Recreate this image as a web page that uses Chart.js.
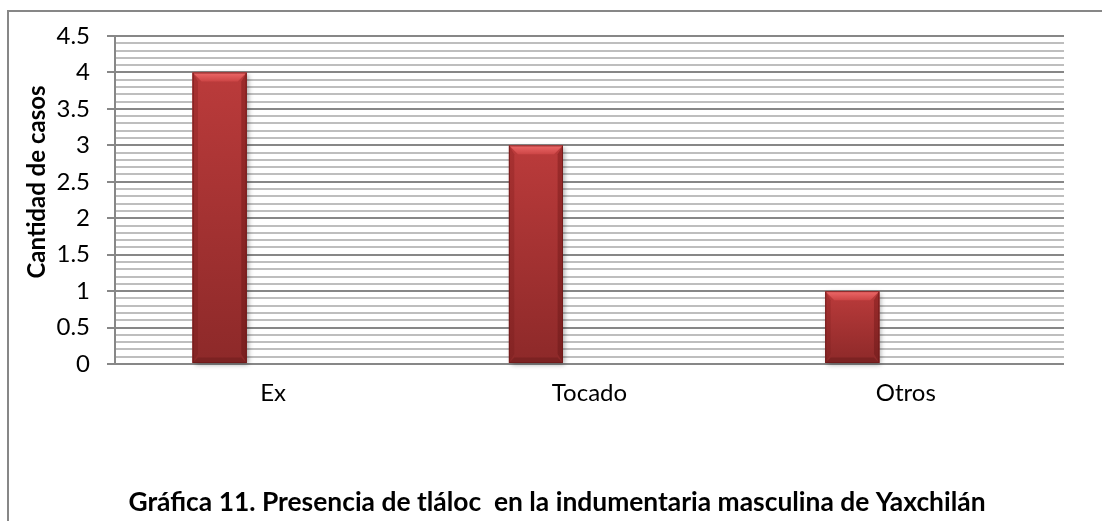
<!DOCTYPE html>
<html>
<head>
<meta charset="utf-8">
<script src="https://cdn.jsdelivr.net/npm/chart.js@4.4.1/dist/chart.umd.min.js"></script>
<style>
  html, body { margin: 0; padding: 0; background: #fff; }
  #wrap { position: relative; width: 1102px; height: 521px; }
</style>
</head>
<body>
<div id="wrap"><canvas id="grafica" width="1102" height="521"></canvas></div>
<script>
// datos de la gráfica
const categorias = ["Ex", "Tocado", "Otros"];
const casos = [4, 3, 1];
const serieVacia = [null, null, null];
const escalaMax = 4.5;
const paso = 0.1;

const tituloGrafica = "Gráfica 11. Presencia de tláloc  en la indumentaria masculina de Yaxchilán";
const tituloEjeY = "Cantidad de casos";

const fuente = "Lato";
const gris = "#878787";
const grisClaro = "#bebebe";

function esMayor(v) {
    return Math.round(v * 10) % 5 === 0;
}

// marco del área del gráfico
const marco = {
    id: "marco",
    beforeDraw(chart) {
        const ctx = chart.ctx;
        ctx.save();
        ctx.strokeStyle = gris;
        ctx.lineWidth = 2;
        ctx.strokeRect(8, 11, 2000, 2000);
        ctx.restore();
    }
};

// barras con bisel y sombra
const bisel = {
    id: "bisel",
    afterDatasetDraw(chart, args) {
        if (args.index !== 0) return;
        const ctx = chart.ctx;
        args.meta.data.forEach(bar => {
            const p = bar.getProps(["x", "y", "base", "width"], true);
            const l = p.x - p.width / 2, r = p.x + p.width / 2;
            const t = p.y, b = p.base;
            const h = b - t;
            const e = Math.min(9, h / 4);
            ctx.save();

            // cara con sombra
            ctx.shadowColor = "rgba(0,0,0,0.35)";
            ctx.shadowBlur = 5;
            ctx.shadowOffsetX = 2;
            ctx.shadowOffsetY = 2;
            let g = ctx.createLinearGradient(0, t, 0, b);
            g.addColorStop(0, "#bb3b3b");
            g.addColorStop(1, "#8d2929");
            ctx.fillStyle = g;
            ctx.fillRect(l, t, r - l, h);
            ctx.shadowColor = "transparent";

            // bisel superior
            g = ctx.createLinearGradient(0, t, 0, t + e);
            g.addColorStop(0, "#ee6a6a");
            g.addColorStop(1, "#cc4545");
            ctx.fillStyle = g;
            ctx.beginPath();
            ctx.moveTo(l, t); ctx.lineTo(r, t); ctx.lineTo(r - e, t + e); ctx.lineTo(l + e, t + e);
            ctx.closePath(); ctx.fill();

            // lados
            g = ctx.createLinearGradient(0, t, 0, b);
            g.addColorStop(0, "#a83131");
            g.addColorStop(1, "#842424");
            ctx.fillStyle = g;
            ctx.beginPath();
            ctx.moveTo(l, t); ctx.lineTo(l + e * 0.6, t + e); ctx.lineTo(l + e * 0.6, b - e); ctx.lineTo(l, b);
            ctx.closePath(); ctx.fill();
            g = ctx.createLinearGradient(0, t, 0, b);
            g.addColorStop(0, "#9c2b2b");
            g.addColorStop(1, "#7a2020");
            ctx.fillStyle = g;
            ctx.beginPath();
            ctx.moveTo(r, t); ctx.lineTo(r - e * 0.6, t + e); ctx.lineTo(r - e * 0.6, b - e); ctx.lineTo(r, b);
            ctx.closePath(); ctx.fill();

            // bisel inferior
            ctx.fillStyle = "#7c2222";
            ctx.beginPath();
            ctx.moveTo(l, b); ctx.lineTo(r, b); ctx.lineTo(r - e * 0.6, b - e * 0.6); ctx.lineTo(l + e * 0.6, b - e * 0.6);
            ctx.closePath(); ctx.fill();

            ctx.strokeStyle = "rgba(110,25,25,0.8)";
            ctx.lineWidth = 1;
            ctx.strokeRect(l + 0.5, t + 0.5, r - l - 1, h - 1);
            ctx.restore();
        });
    }
};

// título vertical del eje Y
const tituloY = {
    id: "tituloY",
    afterDraw(chart) {
        const ctx = chart.ctx;
        ctx.save();
        ctx.translate(37, 182);
        ctx.rotate(-Math.PI / 2);
        ctx.font = "bold 24px " + fuente;
        ctx.fillStyle = "#000";
        ctx.textAlign = "center";
        ctx.textBaseline = "middle";
        ctx.fillText(tituloEjeY, 0, 0);
        ctx.restore();
    }
};

const ctx = document.getElementById("grafica").getContext("2d");

new Chart(ctx, {
    type: "bar",
    data: {
        labels: categorias,
        datasets: [{
            label: "Casos",
            data: casos,
            backgroundColor: "#a83232",
            borderWidth: 0,
            categoryPercentage: 0.677,
            barPercentage: 0.505
        }, {
            label: "Serie 2",
            data: serieVacia,
            backgroundColor: "#4f81bd",
            categoryPercentage: 0.677,
            barPercentage: 0.505
        }]
    },
    options: {
        responsive: false,
        animation: false,
        layout: { padding: { top: 36, right: 38, left: 50, bottom: 0 } },
        plugins: {
            legend: { display: false },
            tooltip: { enabled: false },
            title: {
                display: true,
                position: "bottom",
                text: tituloGrafica,
                color: "#000",
                font: { family: fuente, size: 26.4, weight: "bold" },
                padding: { top: 0, bottom: 3 }
            }
        },
        scales: {
            x: {
                afterFit(s) { s.height = 122.3; },
                grid: { display: false, drawTicks: false },
                border: { display: false },
                ticks: {
                    color: "#000",
                    font: { family: fuente, size: 24 },
                    padding: 15
                }
            },
            y: {
                min: 0,
                max: escalaMax,
                afterFit(s) { s.width = 65; },
                ticks: {
                    stepSize: paso,
                    autoSkip: false,
                    color: "#000",
                    font: { family: fuente, size: 24 },
                    padding: 17,
                    callback: v => esMayor(v) ? String(Math.round(v * 10) / 10) : ""
                },
                grid: {
                    color: c => esMayor(c.tick.value) ? gris : grisClaro,
                    lineWidth: 2,
                    tickLength: 8,
                    tickColor: c => esMayor(c.tick.value) ? gris : "transparent"
                },
                border: { display: true, color: gris, width: 2 }
            }
        }
    },
    plugins: [marco, bisel, tituloY]
});
</script>
</body>
</html>
